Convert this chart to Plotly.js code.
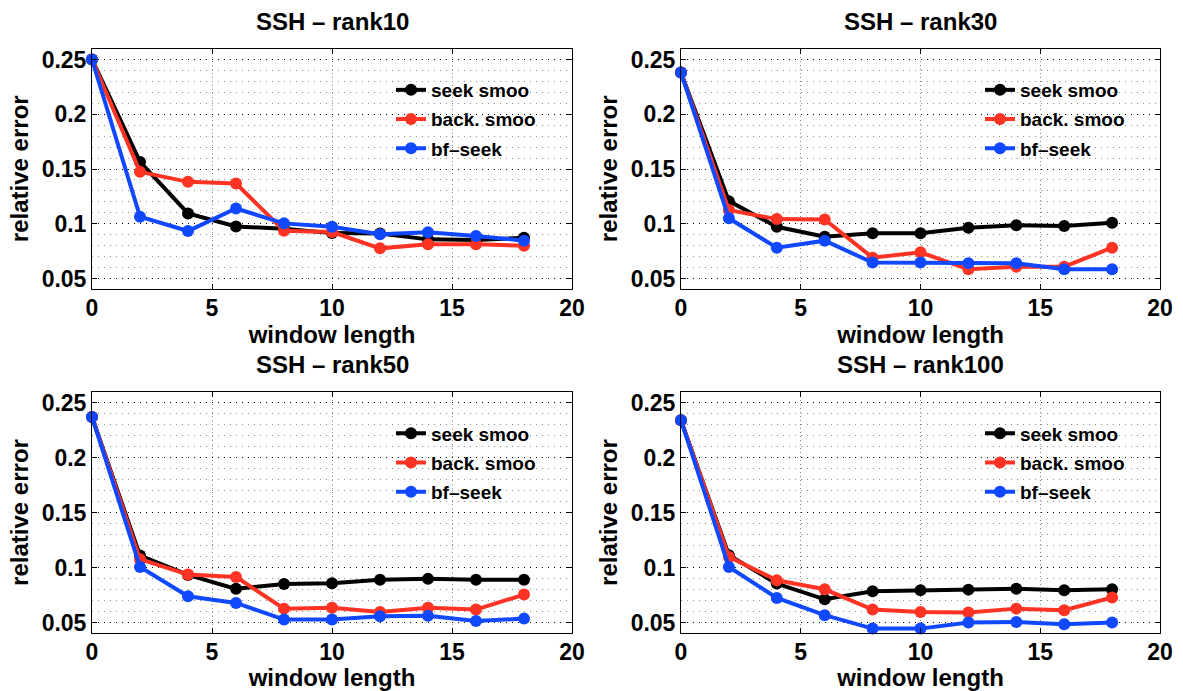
<!DOCTYPE html>
<html>
<head>
<meta charset="utf-8">
<script src="https://cdn.plot.ly/plotly-3.0.1.min.js"></script>
<style>
  html, body { margin: 0; padding: 0; background: #ffffff; }
  #chart { width: 1183px; height: 691px; }
</style>
</head>
<body>
<div id="chart"></div>
<script>
// ---------- data ----------
const windowLength = [0, 2, 4, 6, 8, 10, 12, 14, 16, 18];
const seriesNames = ["seek smoo", "back. smoo", "bf\u2013seek"];
const panelTitles = ["SSH \u2013 rank10", "SSH \u2013 rank30", "SSH \u2013 rank50", "SSH \u2013 rank100"];

const rank10_seek = [0.250, 0.1565, 0.1095, 0.0975, 0.0955, 0.0915, 0.0912, 0.0858, 0.0852, 0.0872];
const rank10_back = [0.250, 0.1474, 0.1383, 0.1368, 0.0937, 0.0925, 0.0776, 0.0813, 0.0813, 0.0800];
const rank10_bf   = [0.250, 0.1065, 0.0934, 0.1140, 0.1004, 0.0973, 0.0904, 0.0922, 0.0889, 0.0846];

const rank30_seek = [0.238, 0.1207, 0.0973, 0.0882, 0.0913, 0.0913, 0.0964, 0.0986, 0.0980, 0.1010];
const rank30_back = [0.238, 0.1125, 0.1043, 0.1040, 0.0691, 0.0740, 0.0585, 0.0609, 0.0609, 0.0782];
const rank30_bf   = [0.238, 0.1050, 0.0782, 0.0846, 0.0646, 0.0646, 0.0640, 0.0640, 0.0585, 0.0585];

const rank50_seek = [0.2373, 0.1110, 0.0934, 0.0807, 0.0852, 0.0858, 0.0889, 0.0898, 0.0889, 0.0889];
const rank50_back = [0.2373, 0.1077, 0.0937, 0.0916, 0.0627, 0.0636, 0.0597, 0.0636, 0.0618, 0.0755];
const rank50_bf   = [0.2373, 0.1007, 0.0740, 0.0679, 0.0527, 0.0527, 0.0558, 0.0561, 0.0515, 0.0536];

const rank100_seek = [0.2342, 0.1113, 0.0855, 0.0712, 0.0785, 0.0794, 0.0800, 0.0809, 0.0794, 0.0803];
const rank100_back = [0.2342, 0.1098, 0.0885, 0.0803, 0.0618, 0.0597, 0.0591, 0.0627, 0.0612, 0.0728];
const rank100_bf   = [0.2342, 0.1007, 0.0724, 0.0567, 0.0445, 0.0445, 0.0500, 0.0506, 0.0485, 0.0500];

const xTickVals = [0, 5, 10, 15, 20];
const xTickText = ["0", "5", "10", "15", "20"];
const yTickVals = [0.05, 0.1, 0.15, 0.2, 0.25];
const yTickText = ["0.05", "0.1", "0.15", "0.2", "0.25"];

// ---------- styling / layout ----------
const panelData = [
  [rank10_seek, rank10_back, rank10_bf],
  [rank30_seek, rank30_back, rank30_bf],
  [rank50_seek, rank50_back, rank50_bf],
  [rank100_seek, rank100_back, rank100_bf]
];
const colors = ["#000000", "#ff3324", "#1048ff"];
const W = 1183, H = 691;
// pixel boxes of the plot areas [left, right, top, bottom]
const boxes = [
  [92, 572, 48.5, 289],
  [681, 1160, 48.5, 289],
  [92, 572, 392, 633],
  [681, 1160, 392, 633]
];
const FONT = "Liberation Sans, Arial, Helvetica, sans-serif";

const traces = [];
const layout = {
  width: W, height: H,
  margin: {l: 0, r: 0, t: 0, b: 0},
  paper_bgcolor: "#ffffff",
  plot_bgcolor: "#ffffff",
  font: {family: FONT, color: "#000000", size: 23, weight: "bold"},
  annotations: [],
  showlegend: true
};

panelData.forEach((series, p) => {
  const n = p + 1;
  const xa = "x" + (n === 1 ? "" : n), ya = "y" + (n === 1 ? "" : n);
  const legendId = "legend" + (n === 1 ? "" : n);
  series.forEach((vals, s) => {
    traces.push({
      type: "scatter", mode: "lines+markers",
      x: windowLength, y: vals,
      name: seriesNames[s],
      xaxis: xa, yaxis: ya,
      legend: legendId,
      legendgroup: "g" + p + "_" + s,
      line: {color: colors[s], width: 4},
      marker: {color: colors[s], size: 12, symbol: "circle"},
      cliponaxis: false
    });
  });
  const b = boxes[p];
  const xKey = "xaxis" + (n === 1 ? "" : n), yKey = "yaxis" + (n === 1 ? "" : n);
  layout[xKey] = {
    domain: [b[0] / W, b[1] / W],
    anchor: ya,
    range: [0, 20],
    tickmode: "array", tickvals: xTickVals, ticktext: xTickText,
    ticks: "inside", ticklen: 5, tickwidth: 1, tickcolor: "#000",
    showline: true, linecolor: "#000", linewidth: 1, mirror: "ticks",
    showgrid: true, gridcolor: "#8a8a8a", gridwidth: 1, griddash: "1px,3px",
    zeroline: false,
    tickfont: {family: FONT, size: 23, weight: "bold", color: "#000"},
    ticklabelstandoff: -2,
    title: {text: "window length", font: {family: FONT, size: 24, weight: "bold", color: "#000"}, standoff: 4},
    automargin: false
  };
  layout[yKey] = {
    domain: [1 - b[3] / H, 1 - b[2] / H],
    anchor: xa,
    range: [0.0405, 0.26],
    tickmode: "array", tickvals: yTickVals, ticktext: yTickText,
    ticks: "inside", ticklen: 5, tickwidth: 1, tickcolor: "#000",
    showline: true, linecolor: "#000", linewidth: 1, mirror: "ticks",
    showgrid: true, gridcolor: "#000000", gridwidth: 1, griddash: "1px,5px",
    minor: {dtick: 0.01, tick0: 0, showgrid: true, gridcolor: "#8a8a8a", gridwidth: 1, griddash: "1px,5px", ticks: ""},
    zeroline: false,
    tickfont: {family: FONT, size: 23, weight: "bold", color: "#000"},
    title: {text: "relative error", font: {family: FONT, size: 24, weight: "bold", color: "#000"}, standoff: 6},
    automargin: false
  };
  layout[legendId] = {
    x: (b[0] + 299) / W, xanchor: "left",
    y: 1 - (b[2] + 22.5) / H, yanchor: "top",
    bgcolor: "rgba(255,255,255,0)", borderwidth: 0,
    font: {family: FONT, size: 19, weight: "bold", color: "#000"},
    itemwidth: 30,
    traceorder: "grouped",
    tracegroupgap: 1.5
  };
  layout.annotations.push({
    text: panelTitles[p],
    xref: "paper", yref: "paper",
    x: (b[0] + b[1]) / 2 / W, xanchor: "center",
    y: 1 - (b[2] - 27.5) / H, yanchor: "middle",
    showarrow: false,
    font: {family: FONT, size: 24, weight: "bold", color: "#000"}
  });
});

Plotly.newPlot("chart", traces, layout, {displayModeBar: false, staticPlot: true});
</script>
</body>
</html>
